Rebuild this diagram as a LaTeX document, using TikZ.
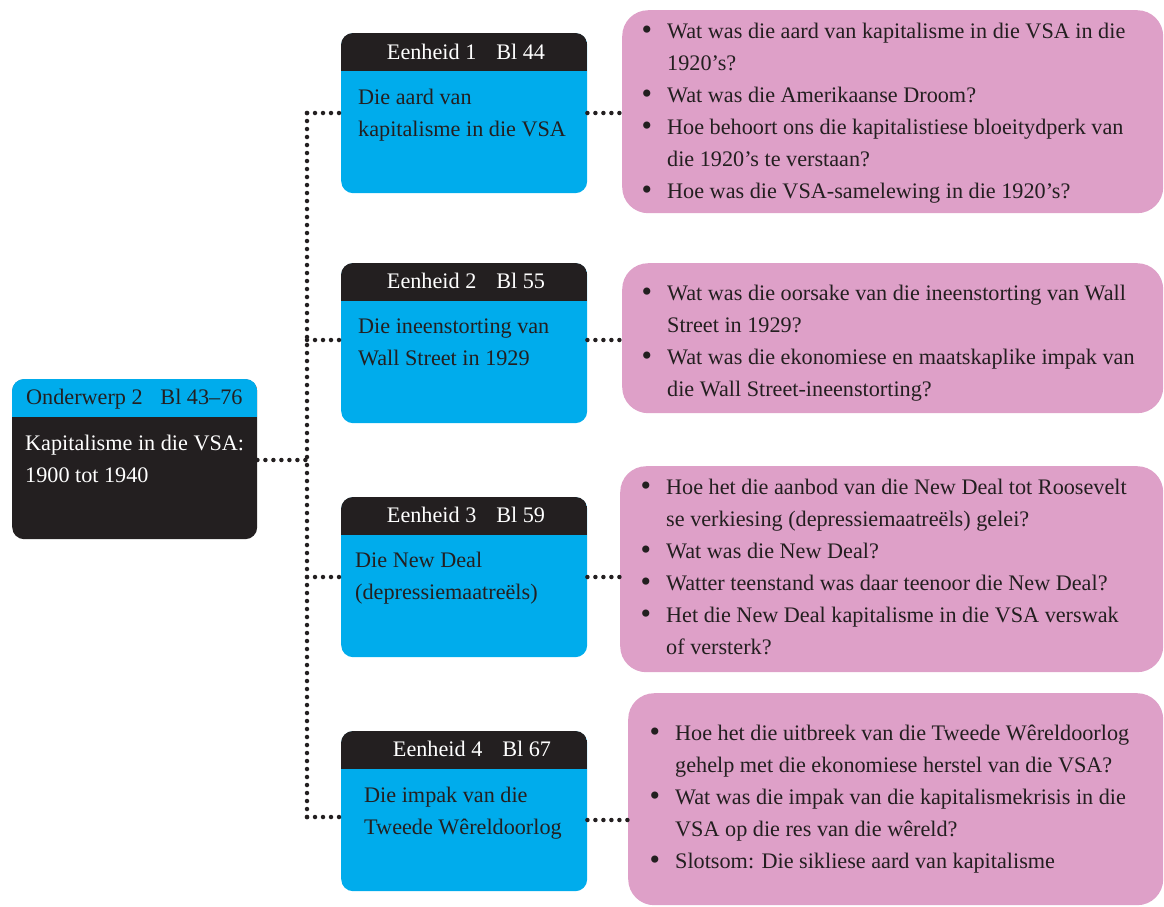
\documentclass[tikz,border=0pt]{standalone}
\usepackage{fontspec}
\setmainfont{Liberation Serif}
\definecolor{cblue}{RGB}{0,172,236}
\definecolor{cdark}{RGB}{35,31,32}
\definecolor{cpink}{RGB}{222,160,200}
\newcommand{\qb}{\makebox[24pt][l]{\hspace{-1.5pt}\raisebox{-1.6pt}{\scalebox{1.35}{\textbullet}}}}
\newcommand{\qsp}{\hspace*{24pt}}
\newcommand{\mylines}[1]{\begin{tabular}[t]{@{}l@{}}#1\end{tabular}}
\begin{document}
\begin{tikzpicture}[x=1pt,y=-1pt,
  txt/.style={font=\fontsize{22.2}{32}\selectfont, inner sep=0pt, anchor=base west, text=cdark},
  hdrtxt/.style={font=\fontsize{22.2}{32}\selectfont, inner sep=0pt, anchor=base, text=white},
  ubox/.style={fill=cblue, rounded corners=12pt, minimum width=246pt, minimum height=160pt, inner sep=0pt, anchor=north west},
  pbox/.style={fill=cpink, rounded corners=26pt, inner sep=0pt, anchor=north west},
  dots/.style={line width=4.5pt, line cap=round, dash pattern=on 0pt off 8pt, cdark}]
\useasboundingbox (0,0) rectangle (1164,906);

% ---- topic box
\node[ubox, fill=cdark, minimum width=245pt] (topic) at (12,379) {};
\begin{scope}
  \clip[rounded corners=12pt] (topic.north west) rectangle (topic.south east);
  \fill[cblue] (topic.north west) rectangle ([yshift=-38pt]topic.north east);
\end{scope}
\node[txt] (topich) at (26,404) {Onderwerp 2\hspace{0.8em}Bl 43–76};
\node[txt, text=white] (topicb) at (25,450) {\mylines{Kapitalisme in die VSA:\\1900 tot 1940}};

% ---- unit boxes
\foreach \n/\y in {1/33,2/263,3/497,4/731}{
  \node[ubox] (u\n) at (341,\y) {};
  \begin{scope}
    \clip[rounded corners=12pt] (u\n.north west) rectangle (u\n.south east);
    \fill[cdark] (u\n.north west) rectangle ([yshift=-38pt]u\n.north east);
  \end{scope}
}
\node[hdrtxt] (u1h) at (466,59) {Eenheid 1\hspace{0.9em}Bl 44};
\node[hdrtxt] (u2h) at (466,288) {Eenheid 2\hspace{0.9em}Bl 55};
\node[hdrtxt] (u3h) at (466,522) {Eenheid 3\hspace{0.9em}Bl 59};
\node[hdrtxt] (u4h) at (472,756) {Eenheid 4\hspace{0.9em}Bl 67};

\node[txt] (u1b) at (358,104) {\mylines{Die aard van\\kapitalisme in die VSA}};
\node[txt] (u2b) at (358,333) {\mylines{Die ineenstorting van\\Wall Street in 1929}};
\node[txt] (u3b) at (355,567) {\mylines{Die New Deal\\(depressiemaatreëls)}};
\node[txt] (u4b) at (364,802) {\mylines{Die impak van die\\Tweede Wêreldoorlog}};

% ---- question boxes
\node[pbox, minimum width=541pt, minimum height=203pt] (p1) at (622,10) {};
\node[pbox, minimum width=541pt, minimum height=150pt] (p2) at (622,263) {};
\node[pbox, minimum width=543pt, minimum height=206pt] (p3) at (620,466) {};
\node[pbox, minimum width=535pt, minimum height=212pt] (p4) at (628,693) {};

\node[txt] (p1t) at (643,38) {\mylines{
\qb Wat was die aard van kapitalisme in die VSA in die\\
\qsp 1920’s?\\
\qb Wat was die Amerikaanse Droom?\\
\qb Hoe behoort ons die kapitalistiese bloeitydperk van\\
\qsp die 1920’s te verstaan?\\
\qb Hoe was die VSA-samelewing in die 1920’s?}};
\node[txt] (p2t) at (643,300) {\mylines{
\qb Wat was die oorsake van die ineenstorting van Wall\\
\qsp Street in 1929?\\
\qb Wat was die ekonomiese en maatskaplike impak van\\
\qsp die Wall Street-ineenstorting?}};
\node[txt] (p3t) at (642,494) {\mylines{
\qb Hoe het die aanbod van die New Deal tot Roosevelt\\
\qsp se verkiesing (depressiemaatreëls) gelei?\\
\qb Wat was die New Deal?\\
\qb Watter teenstand was daar teenoor die New Deal?\\
\qb Het die New Deal kapitalisme in die VSA verswak\\
\qsp of versterk?}};
\node[txt] (p4t) at (651,740) {\mylines{
\qb Hoe het die uitbreek van die Tweede Wêreldoorlog\\
\qsp gehelp met die ekonomiese herstel van die VSA?\\
\qb Wat was die impak van die kapitalismekrisis in die\\
\qsp VSA op die res van die wêreld?\\
\qb Slotsom: Die sikliese aard van kapitalisme}};

% ---- connectors
\coordinate (j0) at (307,460);
\coordinate (j1) at (307,113);
\coordinate (j2) at (307,340);
\coordinate (j3) at (307,577);
\coordinate (j4) at (307,817);
\draw[dots] (topic.east |- j0) -- (j0);
\draw[dots] (j1) -- (j4);
\draw[dots] (j1) -- (u1.west |- j1);
\draw[dots] (j2) -- (u2.west |- j2);
\draw[dots] (j3) -- (u3.west |- j3);
\draw[dots] (j4) -- (u4.west |- j4);
\draw[dots] (u1.east |- 0,113) -- (p1.west |- 0,113);
\draw[dots] (u2.east |- 0,340) -- (p2.west |- 0,340);
\draw[dots] (u3.east |- 0,577) -- (p3.west |- 0,577);
\draw[dots] (u4.east |- 0,820) -- (p4.west |- 0,820);
\end{tikzpicture}
\end{document}
